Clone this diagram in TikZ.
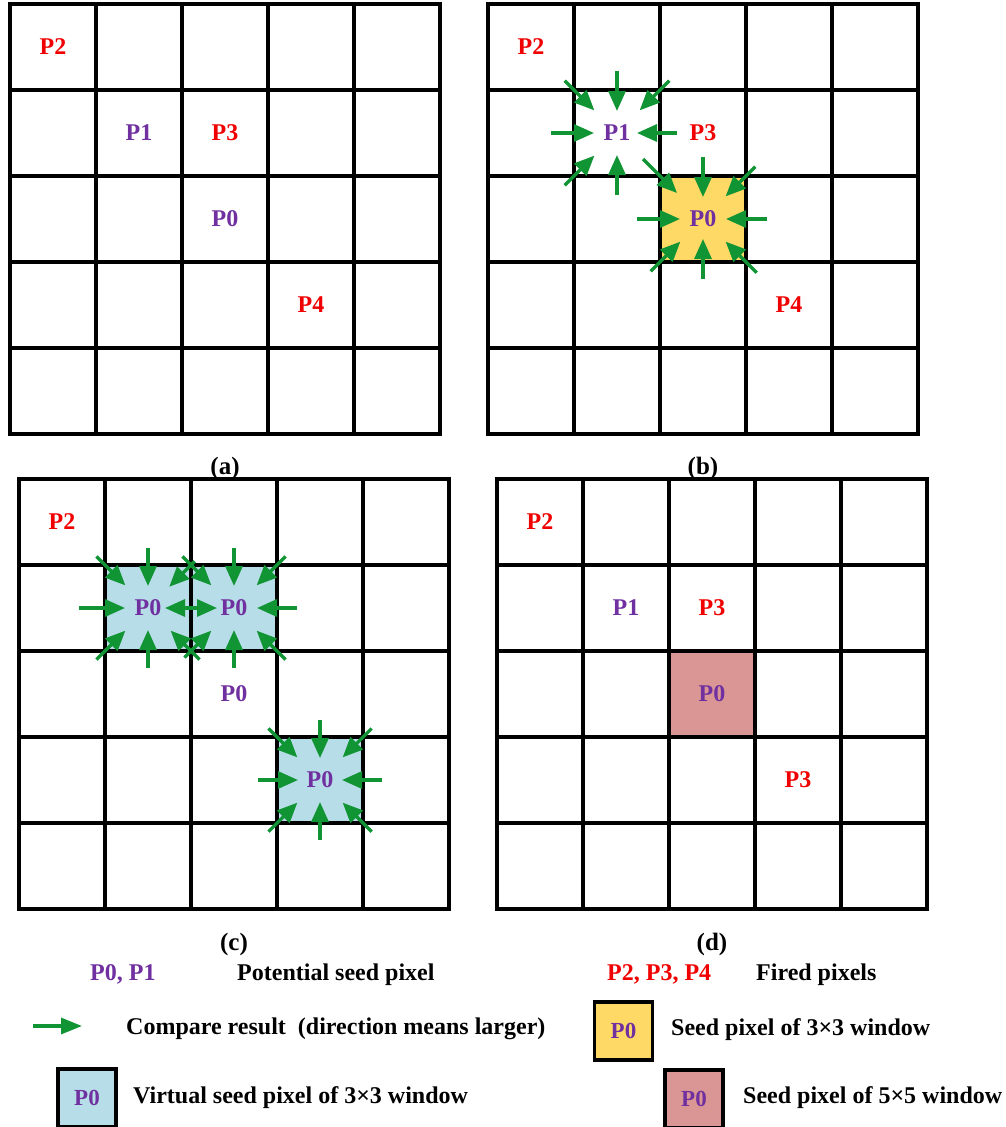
\documentclass[tikz,border=0pt]{standalone}
\usepackage{fontspec}
\setmainfont{Liberation Serif}
\usetikzlibrary{arrows.meta,calc}
\definecolor{pur}{HTML}{7030A0}
\definecolor{fred}{HTML}{F00000}
\definecolor{garr}{RGB}{16,148,52}
\definecolor{seedyel}{HTML}{FFD966}
\definecolor{seedblue}{HTML}{B7DEE8}
\definecolor{seedpink}{HTML}{DA9694}
\newcommand\pixgrid[2]{%
  \draw[gridline] (#1,#2) rectangle ++(430,430);
  \foreach \i in {1,...,4}{%
    \draw[gridline] ({#1+86*\i},#2) -- ++(0,430);
    \draw[gridline] (#1,{#2+86*\i}) -- ++(430,0);
  }}
\newcommand\seedarrows[2]{%
  \foreach \a/\ro/\ri in {#2}{%
    \draw[garrow] ([shift={(\a:\ro)}]#1.center) -- ([shift={(\a:\ri)}]#1.center);
  }}
\begin{document}
\begin{tikzpicture}[x=1pt,y=-1pt,
  gridline/.style={line width=3.2pt, line join=miter},
  lab/.style={font=\fontsize{24}{28}\selectfont\bfseries, inner sep=0pt},
  pl/.style={lab, text=pur},
  rl/.style={lab, text=fred},
  sub/.style={font=\fontsize{25}{29}\selectfont\bfseries, inner sep=0pt, anchor=base},
  legtxt/.style={font=\fontsize{24}{28}\selectfont\bfseries, inner sep=0pt, anchor=base west},
  garrow/.style={draw=garr, line width=3.2pt, -{Triangle[length=20pt,width=17pt]}},
  legbox/.style={draw, line width=3.6pt, minimum size=58pt, inner sep=0pt,
    font=\fontsize{23}{27}\selectfont\bfseries, text=pur}]
\useasboundingbox (0,0) rectangle (1005,1127);

% ---------- cell fills ----------
\fill[seedyel]  (660,176) rectangle (746,262);
\fill[seedblue] (105,565) rectangle (191,651);
\fill[seedblue] (191,565) rectangle (277,651);
\fill[seedblue] (277,737) rectangle (363,823);
\fill[seedpink] (669,651) rectangle (755,737);

% ---------- grids ----------
\pixgrid{10}{4}
\pixgrid{488}{4}
\pixgrid{19}{479}
\pixgrid{497}{479}

% ---------- (a) ----------
\node[rl] (aP2) at (53,47) {P2};
\node[pl] (aP1) at (139,133) {P1};
\node[rl] (aP3) at (225,133) {P3};
\node[pl] (aP0) at (225,219) {P0};
\node[rl] (aP4) at (311,305) {P4};
\node[sub] (capa) at (225,474) {(a)};

% ---------- (b) ----------
\node[rl] (bP2) at (531,47) {P2};
\node[pl] (bP1) at (617,133) {P1};
\node[rl] (bP3) at (703,133) {P3};
\node[pl] (bP0) at (703,219) {P0};
\node[rl] (bP4) at (789,305) {P4};
\node[sub] (capb) at (703,474) {(b)};
\seedarrows{bP1}{90/62/22, 135/74/32, 180/66/23, 225/74/32, 270/62/22, 315/74/32}
\seedarrows{bP0}{0/64/23, 45/76/32, 90/60/20, 135/74/32, 180/66/23, 270/62/22, 315/74/32}
\draw[garrow] ([xshift=-26pt]bP3.center) -- ([xshift=20pt]bP1.center);
\draw[garrow] ([shift={(26,26)}]bP1.center) -- ([shift={(-26,-26)}]bP0.center);

% ---------- (c) ----------
\node[rl] (cP2) at (62,522) {P2};
\node[pl] (cL) at (148,608) {P0};
\node[pl] (cR) at (234,608) {P0};
\node[pl] (cM) at (234,694) {P0};
\node[pl] (cB) at (320,780) {P0};
\node[sub] (capc) at (234,950) {(c)};
\seedarrows{cL}{45/73/32, 90/60/22, 135/73/32, 180/69/23, 225/73/32, 270/60/22, 315/66/30}
\seedarrows{cR}{0/63/23, 45/73/32, 90/60/22, 135/70/32, 225/73/32, 270/60/22, 315/73/32}
\seedarrows{cB}{0/62/22, 45/73/32, 90/60/22, 135/73/32, 180/62/22, 225/73/32, 270/60/22, 315/73/32}
\draw[garrow, {Triangle[length=20pt,width=17pt]}-{Triangle[length=20pt,width=17pt]}]
  ([xshift=17pt]cL.center) -- ([xshift=-17pt]cR.center);

% ---------- (d) ----------
\node[rl] (dP2) at (540,522) {P2};
\node[pl] (dP1) at (626,608) {P1};
\node[rl] (dP3) at (712,608) {P3};
\node[pl] (dP0) at (712,694) {P0};
\node[rl] (dP3b) at (798,780) {P3};
\node[sub] (capd) at (712,950) {(d)};

% ---------- legend ----------
\node[legtxt, text=pur] (lgP) at (90,980) {P0, P1};
\node[legtxt] (lgPt) at (237,980) {Potential seed pixel};
\node[legtxt, text=fred] (lgF) at (607,980) {P2, P3, P4};
\node[legtxt] (lgFt) at (756,980) {Fired pixels};

\coordinate (la1) at (33,1026);
\coordinate (la2) at (82,1026);
\draw[garrow, -{Triangle[length=21pt,width=16pt]}] (la1) -- (la2);
\node[legtxt] (lgA) at (126,1034) {Compare result\ \ (direction means larger)};

\node[legbox, fill=seedyel] (lbY) at (623.5,1031) {P0};
\node[legtxt] (lgY) at (671,1035) {Seed pixel of 3×3 window};

\node[legbox, fill=seedblue] (lbB) at (87,1098) {P0};
\node[legtxt] (lgB) at (133,1103) {Virtual seed pixel of 3×3 window};

\node[legbox, fill=seedpink] (lbP) at (694,1099) {P0};
\node[legtxt] (lgPk) at (743,1103) {Seed pixel of 5×5 window};
\end{tikzpicture}
\end{document}
